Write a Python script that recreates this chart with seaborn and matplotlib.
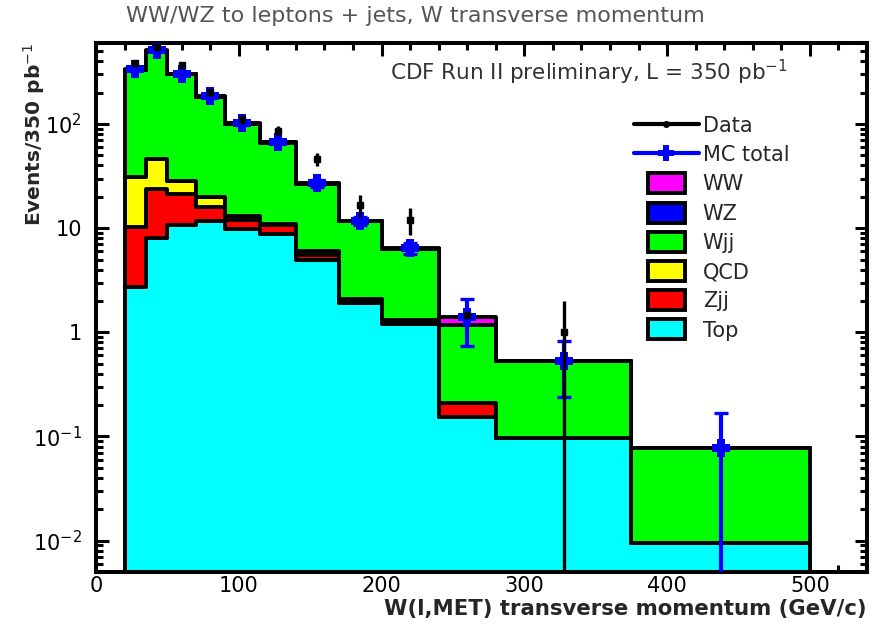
import numpy as np
import pandas as pd
import matplotlib
matplotlib.use("Agg")
import matplotlib.pyplot as plt
import seaborn as sns
import matplotlib.patches as mpatches
from matplotlib.lines import Line2D
from matplotlib.legend_handler import HandlerPatch
from matplotlib.ticker import FixedLocator, LogLocator, NullFormatter, MultipleLocator

# Variable-width bins in W transverse momentum (GeV/c)
bin_edges = [20, 35, 50, 70, 90, 115, 140, 170, 200, 240, 280, 375, 500]

# Expected events per process and bin
top = [2.75, 8.1, 10.8, 11.8, 9.9, 8.85, 4.9, 1.9, 1.19, 0.155, 0.097, 0.0094]
zjj = [7.55, 15.8, 10.6, 4.3, 2.2, 1.95, 0.6, 0.1, 0.06, 0.054, 0.0, 0.0]
qcd = [20.7, 22.1, 7.1, 3.9, 1.1, 0.1, 0.5, 0.1, 0.05, 0.0, 0.0, 0.0]
wjj = [301.0, 458.0, 273.0, 162.6, 87.5, 55.4, 20.6, 9.5, 5.0, 0.96, 0.433, 0.0686]
wz = [1.0, 1.5, 1.0, 0.6, 0.35, 0.2, 0.1, 0.05, 0.03, 0.0, 0.0, 0.0]
ww = [3.0, 4.5, 2.8, 1.8, 1.0, 0.6, 0.3, 0.15, 0.08, 0.25, 0.0, 0.0]
mc_err = [8.0, 12.0, 8.0, 6.0, 4.0, 3.0, 2.0, 1.0, 0.8, 0.68, 0.29, 0.09]

# Observed events (last bin empty)
data_vals = [384, 546, 371, 202, 111, 86, 46, 16.8, 12.1, 1.47, 1.0, np.nan]
data_err = [19.6, 23.4, 19.3, 14.2, 10.5, 9.3, 6.8, 4.1, 3.5, 0.0, 1.0, np.nan]

processes = ["WW", "WZ", "Wjj", "QCD", "Zjj", "Top"]
components = {"WW": ww, "WZ": wz, "Wjj": wjj, "QCD": qcd, "Zjj": zjj, "Top": top}
palette = {"WW": "#ff00ff", "WZ": "#0000ff", "Wjj": "#00ff00",
           "QCD": "#ffff00", "Zjj": "#ff0000", "Top": "#00ffff"}

edges = np.array(bin_edges, dtype=float)
centers = 0.5 * (edges[:-1] + edges[1:])

rows = []
for name in processes:
    for c, v in zip(centers, components[name]):
        rows.append({"pt": c, "events": v, "process": name})
df = pd.DataFrame(rows)

mc_total = np.sum([components[p] for p in processes], axis=0)

sns.set_theme(style="ticks")
plt.rcParams["font.family"] = ["DejaVu Sans"]
plt.rcParams["mathtext.fontset"] = "dejavusans"

fig = plt.figure(figsize=(8.76, 6.28), dpi=100)
ax = fig.add_axes([96 / 876, 1 - 572 / 628, 771 / 876, 529 / 628])

sns.histplot(data=df, x="pt", weights="events", hue="process",
             hue_order=processes, bins=bin_edges, multiple="stack",
             element="step", fill=True, palette=palette, alpha=1,
             edgecolor="black", linewidth=2.8, legend=False, ax=ax)

# Thick filled cross for the MC total
cross = [(-1, -0.42), (-0.42, -0.42), (-0.42, -1), (0.42, -1), (0.42, -0.42),
         (1, -0.42), (1, 0.42), (0.42, 0.42), (0.42, 1), (-0.42, 1),
         (-0.42, 0.42), (-1, 0.42), (-1, -0.42)]

ax.errorbar(centers, mc_total, yerr=mc_err, fmt="none", ecolor="#0000ff",
            elinewidth=3, capsize=4.7, capthick=2.4, zorder=5)
ax.plot(centers, mc_total, linestyle="none", marker=cross, markersize=13,
        color="#0000ff", markeredgewidth=0, zorder=6)

data_lo = np.minimum(np.array(data_err), np.array(data_vals) * 0.9999)
ax.errorbar(centers, data_vals, yerr=[data_lo, data_err], fmt="s",
            color="black", markersize=4, elinewidth=2.4, capsize=0, zorder=7)

ax.set_yscale("log")
ax.set_ylim(0.005, 600)
ax.set_xlim(0, 540)

ax.xaxis.set_major_locator(MultipleLocator(100))
ax.xaxis.set_minor_locator(MultipleLocator(20))
ax.yaxis.set_major_locator(FixedLocator([0.01, 0.1, 1, 10, 100]))
ax.set_yticklabels([r"10$^{-2}$", r"10$^{-1}$", "1", "10", r"10$^{2}$"])
ax.yaxis.set_minor_locator(LogLocator(base=10, subs=np.arange(2, 10), numticks=20))
ax.yaxis.set_minor_formatter(NullFormatter())

for s in ax.spines.values():
    s.set_linewidth(2.9)
    s.set_color("black")
ax.tick_params(which="both", direction="in", top=True, right=True,
               width=2.2, colors="black", labelsize=15)
ax.tick_params(which="major", length=9)
ax.tick_params(which="minor", length=5)
ax.tick_params(axis="x", which="major", pad=3)
ax.tick_params(axis="y", which="major", pad=10)
ax.grid(False)

ax.set_xlabel("W(l,MET) transverse momentum (GeV/c)", fontsize=15.3,
              fontweight="bold", loc="right", labelpad=2)
ax.set_ylabel(r"Events/350 pb$^{-1}$", fontsize=14.5, fontweight="bold",
              loc="top")
ax.yaxis.set_label_coords(-0.064, 1.0)

fig.text(415 / 876, 1 - 16 / 628, "WW/WZ to leptons + jets, W transverse momentum",
         ha="center", va="center", fontsize=16, color="#555555")
fig.text(390 / 876, 1 - 72 / 628, r"CDF Run II preliminary, L = 350 pb$^{-1}$",
         ha="left", va="center", fontsize=15.5, color="#333333")


def small_box(legend, orig_handle, xdescent, ydescent, width, height, fontsize):
    w = width * 0.58
    return mpatches.Rectangle((-xdescent + (width - w) / 2, -ydescent), w, height)


handles = [
    Line2D([], [], color="black", lw=3, marker="o", markersize=4),
    Line2D([], [], color="#0000ff", lw=3, marker=cross, markersize=11,
           markeredgewidth=0),
]
for name in processes:
    handles.append(mpatches.Patch(facecolor=palette[name], edgecolor="black", lw=2.8))
labels = ["Data", "MC total"] + processes

ax.legend(handles, labels, loc="upper left", bbox_to_anchor=(634 / 876, 1 - 115 / 628),
          bbox_transform=fig.transFigure, frameon=False, fontsize=15,
          handlelength=3.1, handleheight=1.1, handletextpad=0.2,
          labelspacing=0.39, borderpad=0, borderaxespad=0,
          handler_map={mpatches.Patch: HandlerPatch(patch_func=small_box)})

fig.savefig("out.png", dpi=100)
